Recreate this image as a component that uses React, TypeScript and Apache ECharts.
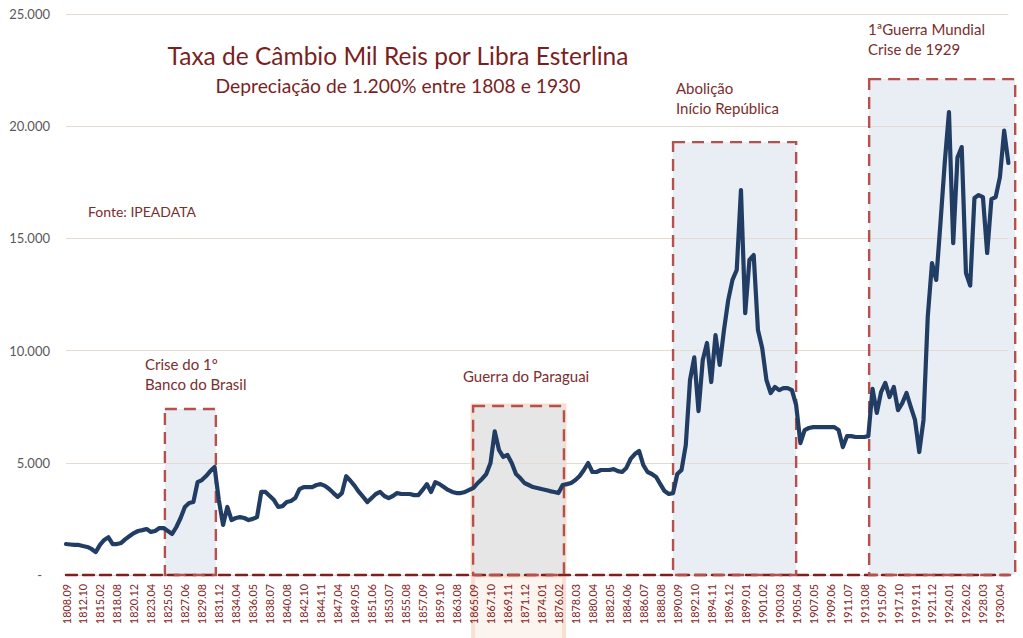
import React, { useEffect, useRef } from "react";
import * as echarts from "echarts";

const TICK_LABELS = [
  "1808.09", "1812.10", "1815.02", "1818.08", "1820.12", "1823.04", "1825.05", "1827.06",
  "1829.08", "1831.12", "1834.04", "1836.05", "1838.07", "1840.08", "1842.10", "1844.11",
  "1847.04", "1849.05", "1851.06", "1853.07", "1855.08", "1857.09", "1859.10", "1863.08",
  "1865.09", "1867.10", "1869.11", "1871.12", "1874.01", "1876.02", "1878.03", "1880.04",
  "1882.05", "1884.06", "1886.07", "1888.08", "1890.09", "1892.10", "1894.11", "1896.12",
  "1899.01", "1901.02", "1903.03", "1905.04", "1907.05", "1909.06", "1911.07", "1913.08",
  "1915.09", "1917.10", "1919.11", "1921.12", "1924.01", "1926.02", "1928.03", "1930.04",
];

// points per tick-label interval
const SUBSTEPS = 4;

// Mil réis per pound sterling
const RATE = [
  1380, 1360, 1340, 1340, 1290, 1250, 1160, 1020, 1340, 1560, 1680, 1380, 1380, 1430, 1600, 1740,
  1870, 1960, 2000, 2050, 1920, 1960, 2090, 2090, 1960, 1830, 2140, 2540, 3030, 3210, 3250, 4140,
  4230, 4410, 4630, 4810, 3340, 2230, 3030, 2450, 2540, 2580, 2540, 2450, 2500, 2580, 3700, 3700,
  3520, 3340, 3030, 3070, 3250, 3300, 3430, 3830, 3920, 3920, 3920, 4010, 4050, 3970, 3830, 3650,
  3480, 3650, 4400, 4200, 3970, 3700, 3480, 3250, 3430, 3610, 3700, 3520, 3430, 3520, 3650, 3610,
  3610, 3610, 3560, 3560, 3790, 4050, 3700, 4140, 4050, 3920, 3790, 3700, 3650, 3650, 3700, 3790,
  3880, 4100, 4280, 4500, 4990, 6400, 5570, 5260, 5350, 4990, 4500, 4320, 4100, 4010, 3920, 3880,
  3830, 3790, 3740, 3700, 3650, 4010, 4050, 4100, 4230, 4410, 4680, 4990, 4590, 4590, 4680, 4680,
  4680, 4720, 4630, 4590, 4770, 5170, 5390, 5530, 4900, 4590, 4500, 4370, 4050, 3740, 3610, 3650,
  4500, 4680, 5790, 8690, 9700, 7300, 9580, 10340, 8600, 10690, 9360, 10920, 12250, 13150, 13590, 17150,
  11670, 14040, 14260, 10920, 10120, 8690, 8110, 8380, 8240, 8330, 8330, 8240, 7580, 5880, 6460, 6550,
  6590, 6590, 6590, 6590, 6590, 6590, 6460, 5700, 6190, 6190, 6150, 6150, 6150, 6190, 8300, 7220,
  8150, 8560, 7930, 8380, 7350, 7660, 8110, 7490, 6910, 5480, 6910, 11500, 13900, 13150, 15690, 18360,
  20630, 14790, 18600, 19070, 13460, 12900, 16800, 16930, 16840, 14350, 16750, 16840, 17730, 19800, 18360,
];

const CATEGORIES = RATE.map((_, i) => {
  const base = TICK_LABELS[Math.floor(i / SUBSTEPS)];
  return i % SUBSTEPS === 0 ? base : `${base}+${i % SUBSTEPS}`;
});

// Highlighted periods: [from index, to index] on the category axis, top value
const EVENT_NAMES = [
  ["Crise do 1º", "Banco do Brasil"],
  ["Guerra do Paraguai"],
  ["Abolição", "Início República"],
  ["1ªGuerra Mundial", "Crise de 1929"],
];
const EVENT_FROM = [23.3, 95.9, 143.0, 189.2];
const EVENT_TO = [35.3, 117.3, 172.0, 223.6];
const EVENT_TOP = [7400, 7530, 19290, 22100];

const TITLE = "Taxa de Câmbio Mil Reis por Libra Esterlina";
const SUBTITLE = "Depreciação de 1.200% entre 1808 e 1930";
const SOURCE = "Fonte: IPEADATA";

const FONT = "Lato, 'Open Sans', sans-serif";
const DARK_RED = "#7a1f1f";
const TEXT_RED = "#7b2e2e";
const BOX_RED = "#b5504c";

function fmt(v: number): string {
  if (v === 0) return "{dash|-}";
  return String(v).replace(/\B(?=(\d{3})+(?!\d))/g, ".");
}

export default function App() {
  const ref = useRef<HTMLDivElement>(null);

  useEffect(() => {
    if (!ref.current) return;
    const chart = echarts.init(ref.current, null, { renderer: "svg" });
    chart.setOption({
      animation: false,
      backgroundColor: "#ffffff",
      grid: { left: 66, right: 14.6, top: 14, bottom: 63, containLabel: false },
      xAxis: {
        type: "category",
        data: CATEGORIES,
        boundaryGap: false,
        axisTick: { show: false },
        axisLine: { show: true, lineStyle: { color: "#801f1f", width: 2.4, type: [11, 6] } },
        axisLabel: {
          interval: SUBSTEPS - 1,
          rotate: 90,
          color: "#7d2222",
          fontFamily: FONT,
          fontSize: 10.8,
          margin: 9,
        },
        splitLine: { show: false },
      },
      yAxis: {
        type: "value",
        min: 0,
        max: 25000,
        interval: 5000,
        axisLine: { show: false },
        axisTick: { show: false },
        axisLabel: {
          color: "#595959",
          fontFamily: FONT,
          fontSize: 13,
          margin: 16,
          formatter: fmt,
          rich: { dash: { padding: [0, 8, 0, 0], color: "#595959", fontFamily: FONT, fontSize: 13 } },
        },
        splitLine: { show: true, lineStyle: { color: "#e4dbd2", width: 1 } },
      },
      series: [
        {
          type: "line",
          data: RATE,
          symbol: "none",
          smooth: false,
          z: 5,
          lineStyle: { color: "#223d63", width: 4.2, join: "round", cap: "round" },
        },
      ],
    });

    const x0 = chart.convertToPixel({ xAxisIndex: 0 }, 0) as number;
    const xN = chart.convertToPixel({ xAxisIndex: 0 }, RATE.length - 1) as number;
    const step = (xN - x0) / (RATE.length - 1);
    const px = (i: number) => x0 + i * step;
    const py = (v: number) => chart.convertToPixel({ yAxisIndex: 0 }, v) as number;
    const yBase = py(0);

    const graphics: any[] = [];
    EVENT_NAMES.forEach((_, k) => {
      const xa = px(EVENT_FROM[k]);
      const xb = px(EVENT_TO[k]);
      const yt = py(EVENT_TOP[k]);
      const isWar = k === 1;
      if (isWar) {
        graphics.push({
          type: "rect",
          z: -3,
          silent: true,
          shape: { x: xa, y: yBase, width: xb - xa, height: 638 - yBase },
          style: { fill: "rgba(250,236,229,0.6)", stroke: "none" },
        });
        graphics.push({
          type: "rect",
          z: -3,
          silent: true,
          shape: { x: xa, y: yt, width: xb - xa, height: yBase - yt },
          style: { fill: "none", stroke: "#f9dccb", lineWidth: 5 },
        });
        graphics.push({
          type: "line",
          z: -3,
          silent: true,
          shape: { x1: xa, y1: yBase, x2: xa, y2: 638 },
          style: { stroke: "#f8e0d2", lineWidth: 4 },
        });
        graphics.push({
          type: "line",
          z: -3,
          silent: true,
          shape: { x1: xb, y1: yBase, x2: xb, y2: 638 },
          style: { stroke: "#f8e0d2", lineWidth: 4 },
        });
      }
      graphics.push({
        type: "rect",
        z: -2,
        silent: true,
        shape: { x: xa, y: yt, width: xb - xa, height: yBase - yt },
        style: { fill: isWar ? "#e6e6e6" : "#e9edf4", stroke: "none" },
      });
      graphics.push({
        type: "rect",
        z: 3,
        silent: true,
        shape: { x: xa, y: yt, width: xb - xa, height: yBase - yt },
        style: { fill: "none", stroke: BOX_RED, lineWidth: 2.4, lineDash: [12, 7] },
      });
    });

    const textPos = [
      [145, 356],
      [463, 368],
      [676, 80],
      [868, 21],
    ];
    EVENT_NAMES.forEach((lines, k) => {
      lines.forEach((t, li) => {
        graphics.push({
          type: "text",
          z: 10,
          silent: true,
          x: textPos[k][0],
          y: textPos[k][1] + li * 20,
          style: { text: t, fill: TEXT_RED, fontFamily: FONT, fontSize: 15, textVerticalAlign: "top" },
        });
      });
    });

    graphics.push({
      type: "text",
      z: 10,
      x: 398,
      y: 55,
      style: {
        text: TITLE,
        fill: DARK_RED,
        fontFamily: FONT,
        fontSize: 24.5,
        textAlign: "center",
        textVerticalAlign: "middle",
      },
    });
    graphics.push({
      type: "text",
      z: 10,
      x: 398,
      y: 85,
      style: {
        text: SUBTITLE,
        fill: DARK_RED,
        fontFamily: FONT,
        fontSize: 19.3,
        textAlign: "center",
        textVerticalAlign: "middle",
      },
    });
    graphics.push({
      type: "text",
      z: 10,
      x: 88,
      y: 211,
      style: {
        text: SOURCE,
        fill: TEXT_RED,
        fontFamily: FONT,
        fontSize: 14,
        textVerticalAlign: "middle",
      },
    });

    chart.setOption({ graphic: graphics });

    return () => chart.dispose();
  }, []);

  return (
    <div
      ref={ref}
      style={{ position: "fixed", left: 0, top: 0, width: 1023, height: 638, background: "#fff" }}
    />
  );
}
